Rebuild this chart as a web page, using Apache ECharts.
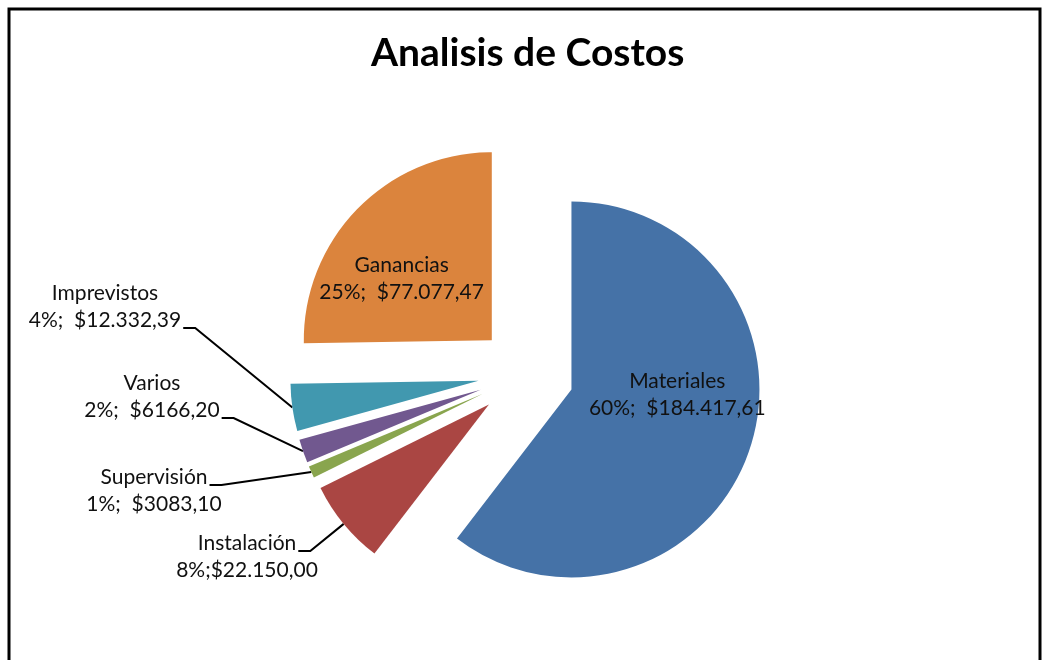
<!DOCTYPE html>
<html>
<head>
<meta charset="utf-8">
<script src="https://cdn.jsdelivr.net/npm/echarts@6/dist/echarts.min.js"></script>
<style>
  html, body { margin: 0; padding: 0; background: #fff; }
  #chart { width: 1047px; height: 660px; }
</style>
</head>
<body>
<div id="chart"></div>
<script>
// slices, clockwise from 12 o'clock
const categories = ['Materiales', 'Instalación', 'Supervisión', 'Varios', 'Imprevistos', 'Ganancias'];
const amounts = [184417.61, 22150.00, 3083.10, 6166.20, 12332.39, 77077.47];
const percentText = ['60%', '8%', '1%', '2%', '4%', '25%'];
const amountText = ['$184.417,61', '$22.150,00', '$3083,10', '$6166,20', '$12.332,39', '$77.077,47'];
const separators = [';  ', ';', ';  ', ';  ', ';  ', ';  '];
const colors = ['#4572A7', '#AA4643', '#89A54E', '#71588F', '#4198AF', '#DB843D'];

const FONT = 'Lato';
const FONT_SIZE = 21;
const LINE_H = 27;
const PIE_CX = 526, PIE_CY = 374, PIE_R = 188, EXPLODE = 48;

// outside labels: centre x, first-line centre y, which line the leader joins
const outsideLabels = {
  1: { x: 247, y: 543, attach: 0 },
  2: { x: 154, y: 477, attach: 0 },
  3: { x: 152, y: 383, attach: 1 },
  4: { x: 105, y: 293, attach: 1 }
};
// nudges for the labels drawn inside the big slices
const insideShift = { 0: [14, -26], 5: [-21, 6] };

const labelText = i => categories[i] + '\n' + percentText[i] + separators[i] + amountText[i];

const ctx = document.createElement('canvas').getContext('2d');
ctx.font = FONT_SIZE + 'px ' + FONT;
const measure = s => ctx.measureText(s).width;

// every slice is pulled out along its own bisector (exploded pie):
// one pie series per slice, all sharing the same data so the angles match
const total = amounts.reduce((a, b) => a + b, 0);
let run = 0;
const midAngles = amounts.map(v => {
  const m = (run + v / 2) / total * 2 * Math.PI;
  run += v;
  return m;
});

const series = categories.map((cat, k) => {
  const a = midAngles[k];
  return {
    type: 'pie',
    center: [PIE_CX + EXPLODE * Math.sin(a), PIE_CY - EXPLODE * Math.cos(a)],
    radius: PIE_R,
    startAngle: 90,
    clockwise: true,
    silent: true,
    avoidLabelOverlap: false,
    emphasis: { disabled: true },
    label: {
      formatter: p => labelText(p.dataIndex),
      fontFamily: FONT,
      fontSize: FONT_SIZE,
      lineHeight: LINE_H,
      color: '#111',
      align: 'center'
    },
    labelLine: { lineStyle: { color: '#000', width: 2 } },
    labelLayout: function (params) {
      const i = params.dataIndex;
      if (i !== k) return {};
      if (insideShift[i]) return { dx: insideShift[i][0], dy: insideShift[i][1] };
      const spot = outsideLabels[i];
      const lines = labelText(i).split('\n');
      const right = spot.x + measure(lines[spot.attach]) / 2;
      const ly = spot.y + spot.attach * LINE_H + 8;
      const p0 = params.labelLinePoints[0];
      return {
        x: spot.x,
        y: spot.y - LINE_H / 2,
        align: 'center',
        verticalAlign: 'top',
        labelLinePoints: [p0, [right + 14, ly], [right + 2, ly]]
      };
    },
    data: categories.map((name, i) => ({
      name: name,
      value: amounts[i],
      itemStyle: { color: i === k ? colors[i] : 'rgba(0,0,0,0)', borderWidth: 0 },
      label: { show: i === k, position: (i === 0 || i === 5) ? 'inside' : 'outside' },
      labelLine: { show: i === k && i !== 0 && i !== 5 }
    }))
  };
});

const chart = echarts.init(document.getElementById('chart'));

chart.setOption({
  animation: false,
  backgroundColor: '#fff',
  title: {
    text: 'Analisis de Costos',
    left: 366,
    top: 29,
    textStyle: { fontFamily: FONT, fontWeight: 'bold', fontSize: 39, color: '#000' }
  },
  graphic: [{
    type: 'rect',
    shape: { x: 9, y: 9, width: 1031, height: 700 },
    style: { fill: 'none', stroke: '#000', lineWidth: 3 },
    silent: true
  }],
  series: series
});
</script>
</body>
</html>
